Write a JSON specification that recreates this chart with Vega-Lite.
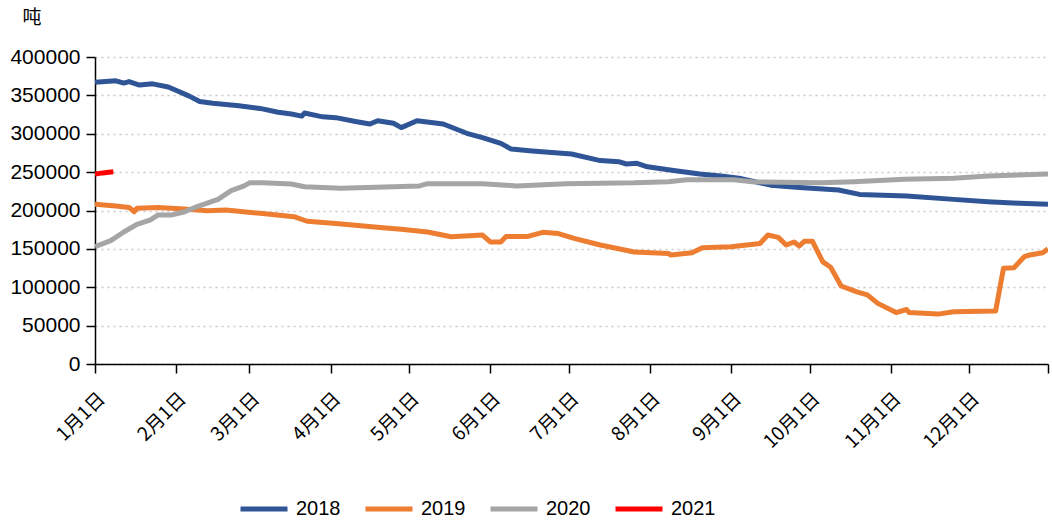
{
  "$schema": "https://vega.github.io/schema/vega-lite/v6.json",
  "width": 953,
  "height": 307,
  "autosize": {"type": "none"},
  "padding": {"left": 95, "top": 57, "right": 4, "bottom": 160},
  "background": "white",
  "config": {
    "view": {"stroke": null},
    "font": "Liberation Sans"
  },
  "data": {
    "values": [
      {"year": "2018", "date": "2019-01-01", "v": 367000},
      {"year": "2018", "date": "2019-01-09", "v": 369000},
      {"year": "2018", "date": "2019-01-12", "v": 366000},
      {"year": "2018", "date": "2019-01-14", "v": 368000},
      {"year": "2018", "date": "2019-01-18", "v": 363500},
      {"year": "2018", "date": "2019-01-23", "v": 365000},
      {"year": "2018", "date": "2019-01-29", "v": 361000},
      {"year": "2018", "date": "2019-02-02", "v": 355000},
      {"year": "2018", "date": "2019-02-06", "v": 349000},
      {"year": "2018", "date": "2019-02-10", "v": 342000},
      {"year": "2018", "date": "2019-02-15", "v": 339700},
      {"year": "2018", "date": "2019-02-25", "v": 336500},
      {"year": "2018", "date": "2019-03-05", "v": 333000},
      {"year": "2018", "date": "2019-03-12", "v": 328000},
      {"year": "2018", "date": "2019-03-17", "v": 325700},
      {"year": "2018", "date": "2019-03-21", "v": 323000},
      {"year": "2018", "date": "2019-03-22", "v": 327000},
      {"year": "2018", "date": "2019-03-29", "v": 322000},
      {"year": "2018", "date": "2019-04-03", "v": 321000},
      {"year": "2018", "date": "2019-04-11", "v": 315700},
      {"year": "2018", "date": "2019-04-16", "v": 312700},
      {"year": "2018", "date": "2019-04-19", "v": 317000},
      {"year": "2018", "date": "2019-04-25", "v": 313600},
      {"year": "2018", "date": "2019-04-28", "v": 308000},
      {"year": "2018", "date": "2019-05-04", "v": 317000},
      {"year": "2018", "date": "2019-05-14", "v": 312700},
      {"year": "2018", "date": "2019-05-23", "v": 300600},
      {"year": "2018", "date": "2019-05-29", "v": 295000},
      {"year": "2018", "date": "2019-06-05", "v": 287500},
      {"year": "2018", "date": "2019-06-09", "v": 280000},
      {"year": "2018", "date": "2019-06-17", "v": 277500},
      {"year": "2018", "date": "2019-07-02", "v": 273600},
      {"year": "2018", "date": "2019-07-13", "v": 265000},
      {"year": "2018", "date": "2019-07-20", "v": 263600},
      {"year": "2018", "date": "2019-07-23", "v": 260600},
      {"year": "2018", "date": "2019-07-27", "v": 261500},
      {"year": "2018", "date": "2019-07-31", "v": 257000},
      {"year": "2018", "date": "2019-08-10", "v": 252000},
      {"year": "2018", "date": "2019-08-20", "v": 247500},
      {"year": "2018", "date": "2019-08-28", "v": 245000},
      {"year": "2018", "date": "2019-09-04", "v": 242000},
      {"year": "2018", "date": "2019-09-16", "v": 233000},
      {"year": "2018", "date": "2019-09-27", "v": 230000},
      {"year": "2018", "date": "2019-10-12", "v": 226700},
      {"year": "2018", "date": "2019-10-20", "v": 221000},
      {"year": "2018", "date": "2019-11-07", "v": 219000},
      {"year": "2018", "date": "2019-11-25", "v": 214500},
      {"year": "2018", "date": "2019-12-08", "v": 211500},
      {"year": "2018", "date": "2019-12-20", "v": 209500},
      {"year": "2018", "date": "2019-12-31", "v": 208000},

      {"year": "2019", "date": "2019-01-01", "v": 208000},
      {"year": "2019", "date": "2019-01-09", "v": 205900},
      {"year": "2019", "date": "2019-01-14", "v": 204000},
      {"year": "2019", "date": "2019-01-16", "v": 198400},
      {"year": "2019", "date": "2019-01-17", "v": 203000},
      {"year": "2019", "date": "2019-01-25", "v": 204000},
      {"year": "2019", "date": "2019-02-04", "v": 202000},
      {"year": "2019", "date": "2019-02-13", "v": 199700},
      {"year": "2019", "date": "2019-02-20", "v": 200600},
      {"year": "2019", "date": "2019-03-06", "v": 196000},
      {"year": "2019", "date": "2019-03-18", "v": 192000},
      {"year": "2019", "date": "2019-03-23", "v": 186000},
      {"year": "2019", "date": "2019-04-03", "v": 183000},
      {"year": "2019", "date": "2019-04-21", "v": 177500},
      {"year": "2019", "date": "2019-04-28", "v": 175500},
      {"year": "2019", "date": "2019-05-08", "v": 172000},
      {"year": "2019", "date": "2019-05-17", "v": 165800},
      {"year": "2019", "date": "2019-05-29", "v": 168000},
      {"year": "2019", "date": "2019-06-01", "v": 159000},
      {"year": "2019", "date": "2019-06-05", "v": 159000},
      {"year": "2019", "date": "2019-06-07", "v": 166000},
      {"year": "2019", "date": "2019-06-15", "v": 166000},
      {"year": "2019", "date": "2019-06-21", "v": 171600},
      {"year": "2019", "date": "2019-06-27", "v": 170000},
      {"year": "2019", "date": "2019-07-03", "v": 163700},
      {"year": "2019", "date": "2019-07-13", "v": 155000},
      {"year": "2019", "date": "2019-07-26", "v": 146000},
      {"year": "2019", "date": "2019-08-08", "v": 144000},
      {"year": "2019", "date": "2019-08-09", "v": 142000},
      {"year": "2019", "date": "2019-08-17", "v": 145000},
      {"year": "2019", "date": "2019-08-21", "v": 151500},
      {"year": "2019", "date": "2019-09-01", "v": 152800},
      {"year": "2019", "date": "2019-09-12", "v": 157000},
      {"year": "2019", "date": "2019-09-15", "v": 168000},
      {"year": "2019", "date": "2019-09-19", "v": 165000},
      {"year": "2019", "date": "2019-09-22", "v": 155000},
      {"year": "2019", "date": "2019-09-25", "v": 159000},
      {"year": "2019", "date": "2019-09-27", "v": 153700},
      {"year": "2019", "date": "2019-09-29", "v": 160000},
      {"year": "2019", "date": "2019-10-02", "v": 160000},
      {"year": "2019", "date": "2019-10-06", "v": 133000},
      {"year": "2019", "date": "2019-10-09", "v": 126000},
      {"year": "2019", "date": "2019-10-13", "v": 101600},
      {"year": "2019", "date": "2019-10-19", "v": 94000},
      {"year": "2019", "date": "2019-10-23", "v": 90000},
      {"year": "2019", "date": "2019-10-27", "v": 79000},
      {"year": "2019", "date": "2019-11-03", "v": 67000},
      {"year": "2019", "date": "2019-11-07", "v": 71000},
      {"year": "2019", "date": "2019-11-08", "v": 67000},
      {"year": "2019", "date": "2019-11-19", "v": 65000},
      {"year": "2019", "date": "2019-11-25", "v": 68000},
      {"year": "2019", "date": "2019-12-11", "v": 69000},
      {"year": "2019", "date": "2019-12-14", "v": 124700},
      {"year": "2019", "date": "2019-12-18", "v": 125500},
      {"year": "2019", "date": "2019-12-22", "v": 140000},
      {"year": "2019", "date": "2019-12-24", "v": 142000},
      {"year": "2019", "date": "2019-12-29", "v": 145000},
      {"year": "2019", "date": "2019-12-31", "v": 150000},

      {"year": "2020", "date": "2019-01-01", "v": 153000},
      {"year": "2020", "date": "2019-01-07", "v": 160700},
      {"year": "2020", "date": "2019-01-12", "v": 172000},
      {"year": "2020", "date": "2019-01-17", "v": 182000},
      {"year": "2020", "date": "2019-01-22", "v": 187600},
      {"year": "2020", "date": "2019-01-25", "v": 194000},
      {"year": "2020", "date": "2019-01-30", "v": 194000},
      {"year": "2020", "date": "2019-02-04", "v": 198000},
      {"year": "2020", "date": "2019-02-09", "v": 205000},
      {"year": "2020", "date": "2019-02-17", "v": 214600},
      {"year": "2020", "date": "2019-02-22", "v": 225800},
      {"year": "2020", "date": "2019-02-27", "v": 232000},
      {"year": "2020", "date": "2019-03-01", "v": 236000},
      {"year": "2020", "date": "2019-03-06", "v": 236000},
      {"year": "2020", "date": "2019-03-17", "v": 234500},
      {"year": "2020", "date": "2019-03-22", "v": 231000},
      {"year": "2020", "date": "2019-04-05", "v": 229000},
      {"year": "2020", "date": "2019-04-15", "v": 230000},
      {"year": "2020", "date": "2019-05-05", "v": 232000},
      {"year": "2020", "date": "2019-05-08", "v": 235000},
      {"year": "2020", "date": "2019-05-29", "v": 235000},
      {"year": "2020", "date": "2019-06-11", "v": 232000},
      {"year": "2020", "date": "2019-06-30", "v": 235000},
      {"year": "2020", "date": "2019-07-26", "v": 236000},
      {"year": "2020", "date": "2019-08-08", "v": 237500},
      {"year": "2020", "date": "2019-08-15", "v": 240000},
      {"year": "2020", "date": "2019-09-02", "v": 240000},
      {"year": "2020", "date": "2019-09-09", "v": 237500},
      {"year": "2020", "date": "2019-10-05", "v": 236000},
      {"year": "2020", "date": "2019-10-18", "v": 237500},
      {"year": "2020", "date": "2019-11-06", "v": 240600},
      {"year": "2020", "date": "2019-11-25", "v": 242000},
      {"year": "2020", "date": "2019-12-08", "v": 245000},
      {"year": "2020", "date": "2019-12-31", "v": 247500},

      {"year": "2021", "date": "2019-01-01", "v": 247500},
      {"year": "2021", "date": "2019-01-04", "v": 249000},
      {"year": "2021", "date": "2019-01-08", "v": 250500}
    ]
  },
  "mark": {"type": "line", "strokeWidth": 5, "strokeJoin": "round", "clip": true},
  "encoding": {
    "x": {
      "field": "date",
      "type": "temporal",
      "scale": {
        "type": "utc",
        "domain": [
          {"year": 2019, "month": 1, "date": 1, "utc": true},
          {"year": 2019, "month": 12, "date": 31, "utc": true}
        ]
      },
      "axis": {
        "title": null,
        "grid": false,
        "values": [
          {"year": 2019, "month": 1, "date": 1, "utc": true},
          {"year": 2019, "month": 2, "date": 1, "utc": true},
          {"year": 2019, "month": 3, "date": 1, "utc": true},
          {"year": 2019, "month": 4, "date": 1, "utc": true},
          {"year": 2019, "month": 5, "date": 1, "utc": true},
          {"year": 2019, "month": 6, "date": 1, "utc": true},
          {"year": 2019, "month": 7, "date": 1, "utc": true},
          {"year": 2019, "month": 8, "date": 1, "utc": true},
          {"year": 2019, "month": 9, "date": 1, "utc": true},
          {"year": 2019, "month": 10, "date": 1, "utc": true},
          {"year": 2019, "month": 11, "date": 1, "utc": true},
          {"year": 2019, "month": 12, "date": 1, "utc": true},
          {"year": 2019, "month": 12, "date": 31, "utc": true}
        ],
        "labelExpr": "utcdate(datum.value) == 1 ? (utcmonth(datum.value) + 1) + '月1日' : ''",
        "labelAngle": -45,
        "labelFont": "Noto Sans CJK SC",
        "labelFontSize": 19,
        "labelColor": "#000000",
        "labelPadding": 16,
        "labelDx": -5,
        "labelOverlap": false,
        "labelFlush": false,
        "domainColor": "#000000",
        "domainWidth": 1.5,
        "tickColor": "#000000",
        "tickWidth": 1.5,
        "tickSize": 9
      }
    },
    "y": {
      "field": "v",
      "type": "quantitative",
      "scale": {"domain": [0, 400000], "nice": false},
      "axis": {
        "values": [0, 50000, 100000, 150000, 200000, 250000, 300000, 350000, 400000],
        "format": "d",
        "title": "吨",
        "titleAngle": 0,
        "titleX": -73,
        "titleY": -40,
        "titleAlign": "left",
        "titleBaseline": "middle",
        "titleFont": "Noto Sans CJK SC",
        "titleFontSize": 19,
        "titleFontWeight": "normal",
        "titleColor": "#000000",
        "labelFont": "Liberation Sans",
        "labelFontSize": 21,
        "labelColor": "#000000",
        "labelPadding": 6,
        "domainColor": "#000000",
        "domainWidth": 1.5,
        "tickColor": "#000000",
        "tickWidth": 1.5,
        "tickSize": 9,
        "grid": true,
        "gridColor": "#c8c8c8",
        "gridDash": [2, 4],
        "gridWidth": 1.5
      }
    },
    "color": {
      "field": "year",
      "type": "nominal",
      "scale": {
        "domain": ["2018", "2019", "2020", "2021"],
        "range": ["#2F5597", "#ED7D31", "#A5A5A5", "#FF0000"]
      },
      "legend": {
        "title": null,
        "orient": "none",
        "direction": "horizontal",
        "legendX": 143,
        "legendY": 426,
        "symbolType": "stroke",
        "symbolSize": 2209,
        "symbolStrokeWidth": 5,
        "labelFont": "Liberation Sans",
        "labelFontSize": 20,
        "labelColor": "#000000",
        "labelOffset": 6,
        "columnPadding": 14
      }
    }
  }
}
